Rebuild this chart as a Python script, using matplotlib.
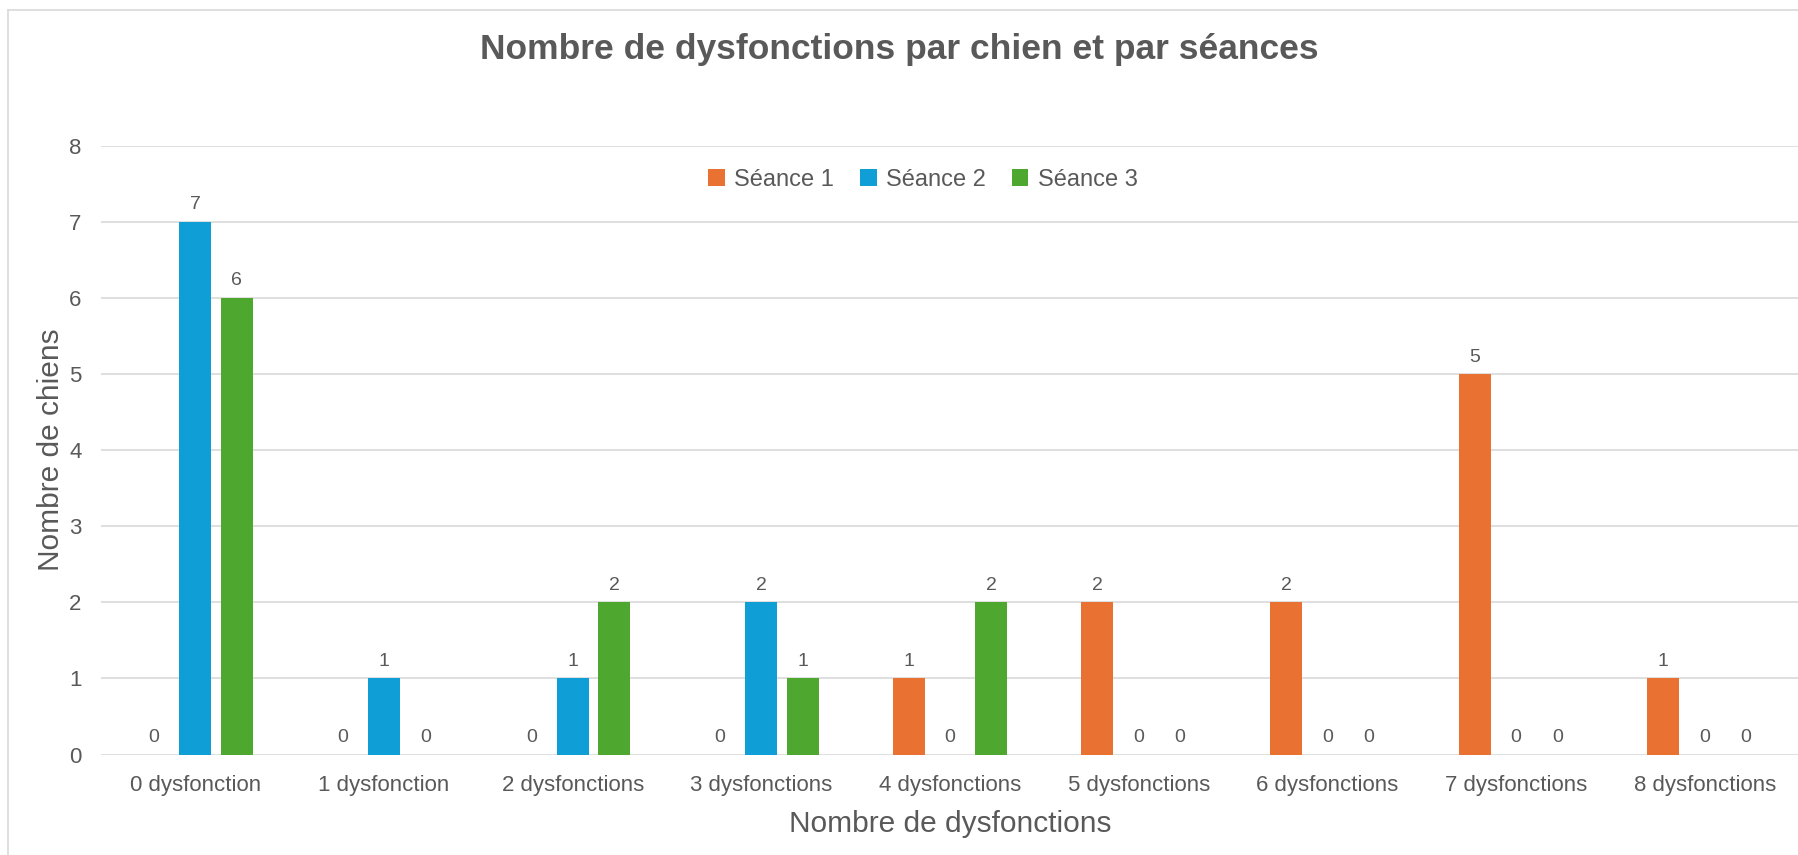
import matplotlib.pyplot as plt
from matplotlib.lines import Line2D
import numpy as np

categories = ["0 dysfonction", "1 dysfonction", "2 dysfonctions", "3 dysfonctions",
              "4 dysfonctions", "5 dysfonctions", "6 dysfonctions", "7 dysfonctions",
              "8 dysfonctions"]
seance1 = [0, 0, 0, 0, 1, 2, 2, 5, 1]
seance2 = [7, 1, 1, 2, 0, 0, 0, 0, 0]
seance3 = [6, 0, 2, 1, 2, 0, 0, 0, 0]
series_names = ["Séance 1", "Séance 2", "Séance 3"]
colors = ["#E97132", "#0F9ED5", "#4EA72E"]

txt = "#595959"
grid = "#D9D9D9"
plt.rcParams['font.family'] = ['Liberation Sans', 'DejaVu Sans']

fig = plt.figure(figsize=(17.98, 8.55), dpi=100)
ax = fig.add_axes([101/1798, 1-754.5/855, 0.9444, (754.5-145.6)/855])

x = np.arange(len(categories))
slot = 0.219
width = 0.17
for i, (vals, name, c) in enumerate(zip([seance1, seance2, seance3], series_names, colors)):
    bars = ax.bar(x + (i-1)*slot, vals, width, color=c, label=name, zorder=3)
    ax.bar_label(bars, padding=6, fontsize=14, color=txt)

ax.set_xlim(-0.5, len(categories)-0.5)
ax.set_ylim(0, 8)
ax.set_yticks(range(9))
ax.yaxis.grid(True, color=grid, linewidth=1.2, zorder=0)
ax.set_axisbelow(True)
for s in ax.spines.values():
    s.set_visible(False)
ax.tick_params(length=0, labelsize=16, colors=txt)
ax.tick_params(axis='y', pad=14)
ax.tick_params(axis='x', pad=15)
ax.set_xticks(x)
ax.set_xticklabels(categories)
ax.set_xlabel("Nombre de dysfonctions", fontsize=21.5, color=txt, labelpad=10)
ax.set_ylabel("Nombre de chiens", fontsize=21.5, color=txt, labelpad=3)

fig.suptitle("Nombre de dysfonctions par chien et par séances", x=0.5, y=1-50/855,
             va='center', fontsize=25.5, fontweight='bold', color=txt)

leg = fig.legend(loc='center', bbox_to_anchor=(923/1798, 1-180/855), ncol=3, frameon=False,
                 fontsize=17, handlelength=0.7, handleheight=0.7, columnspacing=1.1,
                 handletextpad=0.4)
for t in leg.get_texts():
    t.set_color(txt)

# chart border
fig.add_artist(Line2D([8/1798, 8/1798], [0, 1-10/855], color=grid, linewidth=1.2))
fig.add_artist(Line2D([8/1798, 1], [1-10/855, 1-10/855], color=grid, linewidth=1.2))

fig.savefig("out.png", dpi=100, facecolor="white")
